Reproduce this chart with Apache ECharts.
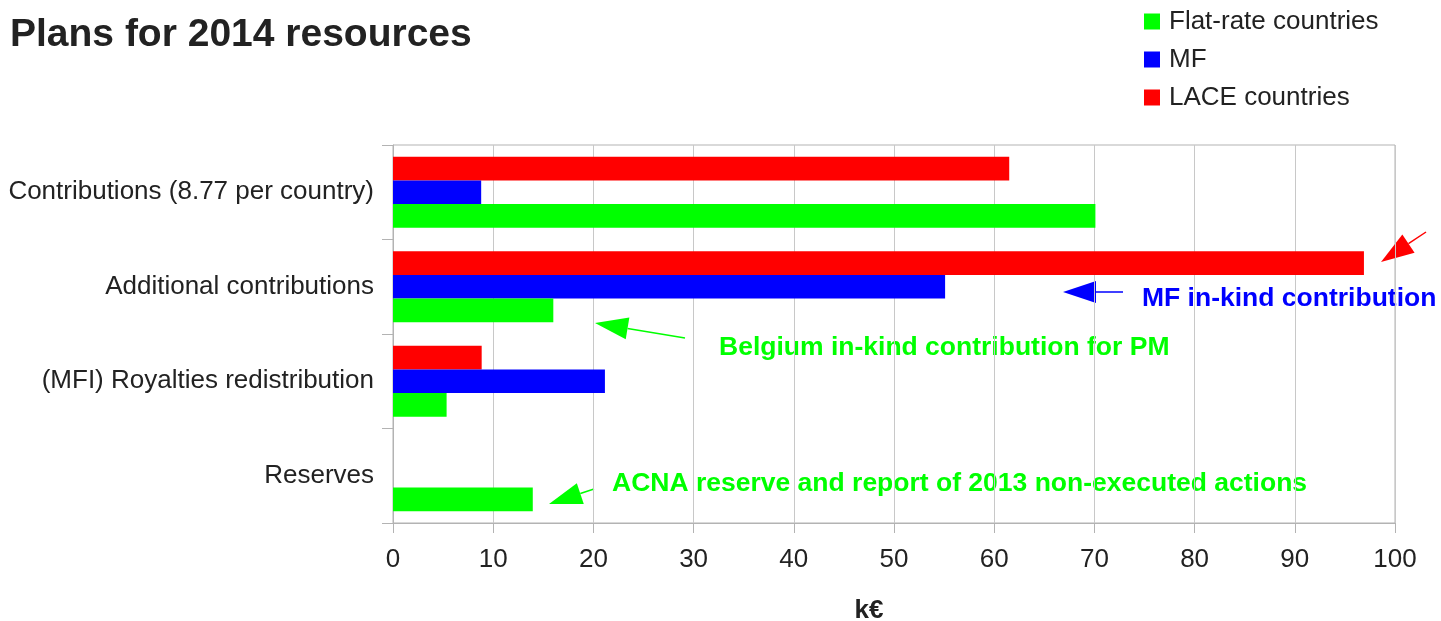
<!DOCTYPE html>
<html>
<head>
<meta charset="utf-8">
<script src="https://cdn.jsdelivr.net/npm/echarts@6/dist/echarts.min.js"></script>
<style>html,body{margin:0;padding:0;background:#fff}#c{width:1441px;height:621px}</style>
</head>
<body>
<div id="c"></div>
<script>
var categories = ['Contributions (8.77 per country)', 'Additional contributions', '(MFI) Royalties redistribution', 'Reserves'];
var flatRate = [70.1, 16.0, 5.35, 13.95];
var mf = [8.8, 55.1, 21.15, 0];
var lace = [61.5, 96.9, 8.85, 0];
var xTicks = { min: 0, max: 100, interval: 10 };

// annotations (pixel positions): arrow tip, arrow tail, label
var arrows = [
  { tip: [1381, 262], tail: [1426, 232], color: '#ff0000' },
  { tip: [1063, 292], tail: [1123, 292], color: '#0000ff' },
  { tip: [595, 323], tail: [685, 338], color: '#00ff00' },
  { tip: [549, 504], tail: [594, 489], color: '#00ff00' }
];
var notes = [
  { text: 'MF in-kind contribution', x: 1142, y: 299, color: '#0000ff' },
  { text: 'Belgium in-kind contribution for PM', x: 719, y: 348, color: '#00ff00' },
  { text: 'ACNA reserve and report of 2013 non-executed actions', x: 612, y: 484, color: '#00ff00' }
];

var FONT = '"Liberation Sans", Arial, sans-serif';
var graphics = [];
arrows.forEach(function (a) {
  var dx = a.tip[0] - a.tail[0], dy = a.tip[1] - a.tail[1];
  var len = Math.sqrt(dx * dx + dy * dy);
  var ux = dx / len, uy = dy / len;
  var L = 33, W = 11;
  var bx = a.tip[0] - ux * L, by = a.tip[1] - uy * L;
  graphics.push({ type: 'line', shape: { x1: a.tail[0], y1: a.tail[1], x2: bx, y2: by }, style: { stroke: a.color, lineWidth: 1.5 } });
  graphics.push({ type: 'polygon', shape: { points: [a.tip, [bx - uy * W, by + ux * W], [bx + uy * W, by - ux * W]] }, style: { fill: a.color } });
});
notes.forEach(function (n) {
  graphics.push({ type: 'text', x: n.x, y: n.y, style: { text: n.text, fill: n.color, font: 'bold 26.5px ' + FONT, textAlign: 'left', textVerticalAlign: 'middle' } });
});
graphics.push({ type: 'text', x: 869, y: 611, style: { text: 'k€', fill: '#222', font: 'bold 26px ' + FONT, textAlign: 'center', textVerticalAlign: 'middle' } });
graphics.push({ type: 'text', x: 10, y: 35, style: { text: 'Plans for 2014 resources', fill: '#222', font: 'bold 39px ' + FONT, textAlign: 'left', textVerticalAlign: 'middle' } });

var chart = echarts.init(document.getElementById('c'), null, { renderer: 'canvas' });
chart.setOption({
  animation: false,
  textStyle: { fontFamily: FONT },
  legend: {
    orient: 'vertical', left: 1144, top: 8.5, padding: 0,
    data: ['Flat-rate countries', 'MF', 'LACE countries'],
    icon: 'rect', itemWidth: 16, itemHeight: 16, itemGap: 12,
    textStyle: { fontSize: 26, color: '#222', lineHeight: 26, padding: [0, 0, 0, 4] }
  },
  grid: { left: 393, right: 46, top: 145, bottom: 98, show: true, borderColor: '#b3b3b3', borderWidth: 1 },
  xAxis: {
    type: 'value', min: xTicks.min, max: xTicks.max, interval: xTicks.interval,
    axisLine: { show: true, lineStyle: { color: '#b3b3b3' } },
    axisTick: { show: true, length: 10, lineStyle: { color: '#b3b3b3' } },
    splitLine: { show: true, lineStyle: { color: '#c8c8c8' } },
    axisLabel: { fontSize: 26, color: '#222', margin: 24 }
  },
  yAxis: {
    type: 'category', data: categories, inverse: true,
    axisLine: { show: true, lineStyle: { color: '#b3b3b3' } },
    axisTick: { show: true, length: 11, lineStyle: { color: '#b3b3b3' } },
    axisLabel: { fontSize: 26, color: '#222', margin: 19 }
  },
  series: [
    { name: 'LACE countries', type: 'bar', data: lace, itemStyle: { color: '#ff0000' }, barGap: '0%', barCategoryGap: '25%' },
    { name: 'MF', type: 'bar', data: mf, itemStyle: { color: '#0000ff' }, barGap: '0%', barCategoryGap: '25%' },
    { name: 'Flat-rate countries', type: 'bar', data: flatRate, itemStyle: { color: '#00ff00' }, barGap: '0%', barCategoryGap: '25%' }
  ],
  graphic: graphics
});
</script>
</body>
</html>
